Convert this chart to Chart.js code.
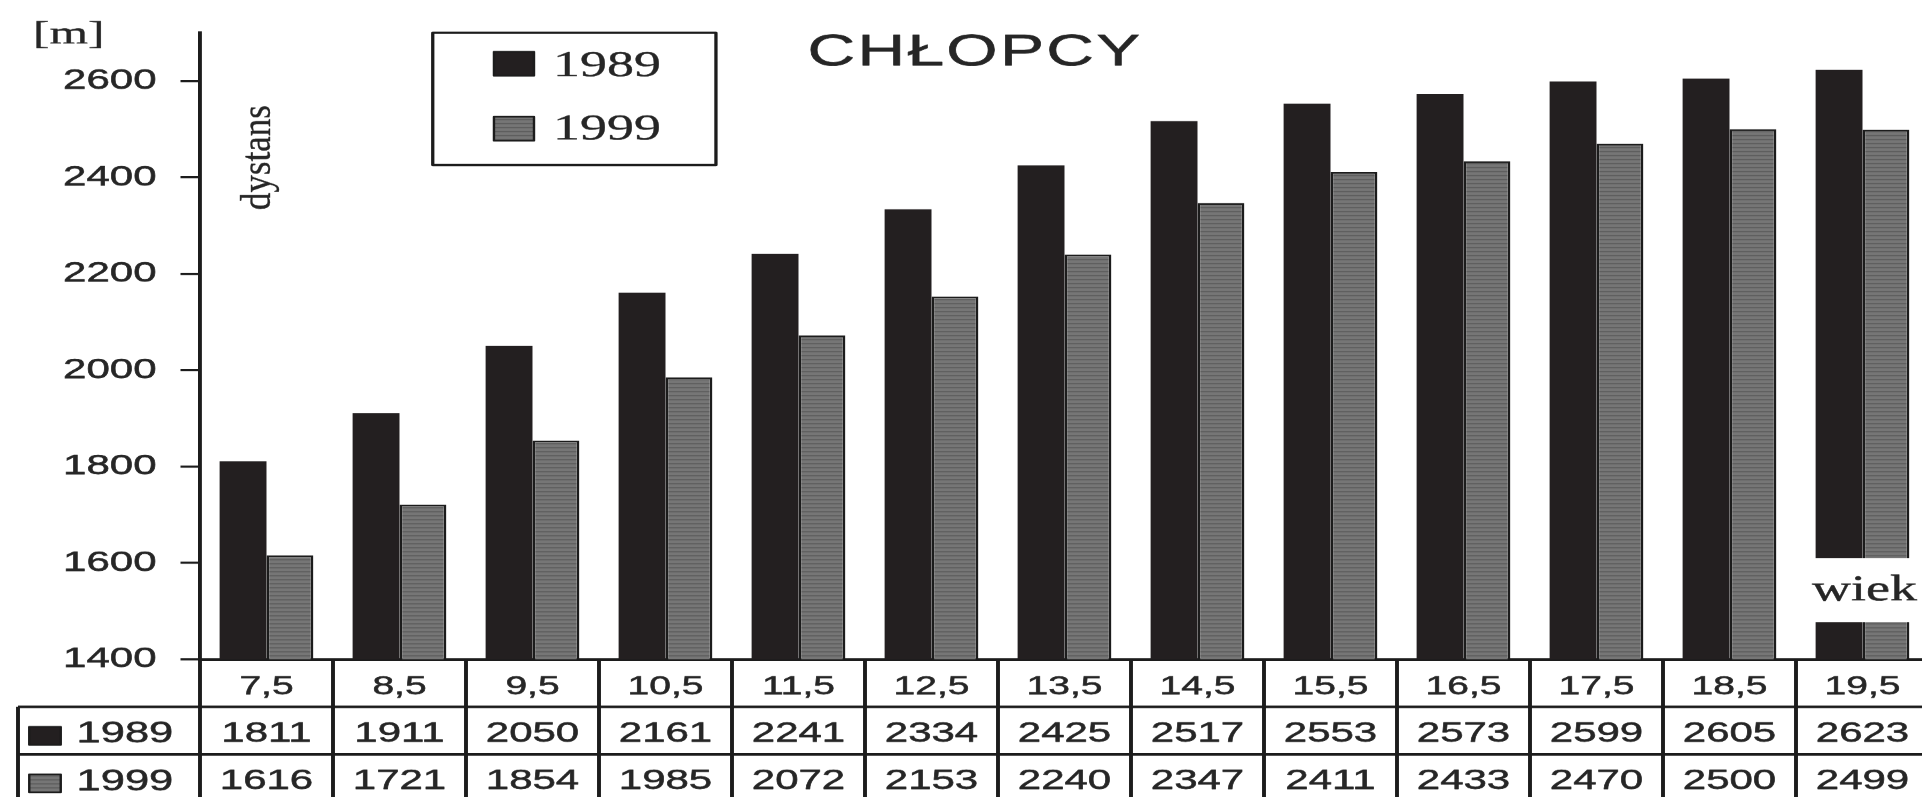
<!DOCTYPE html>
<html>
<head>
<meta charset="utf-8">
<script src="https://cdn.jsdelivr.net/npm/chart.js@4"></script>
<style>
  html, body { margin: 0; padding: 0; background: #fff; overflow: hidden; width: 1922px; height: 797px; }
  /* the figure is laid out narrow and widened 1.5x, as in the printed original */
  #wrap { position: absolute; left: 0; top: 0; width: 1300px; height: 797px; transform: scaleX(1.5); transform-origin: 0 0; }
  canvas { display: block; }
</style>
</head>
<body>
<div id="wrap"><canvas id="chart" width="1300" height="797"></canvas></div>
<script>
// age groups (years)
const categories = ['7,5', '8,5', '9,5', '10,5', '11,5', '12,5', '13,5', '14,5', '15,5', '16,5', '17,5', '18,5', '19,5'];
// 12-minute run distance [m], boys
const values1989 = [1811, 1911, 2050, 2161, 2241, 2334, 2425, 2517, 2553, 2573, 2599, 2605, 2623];
const values1999 = [1616, 1721, 1854, 1985, 2072, 2153, 2240, 2347, 2411, 2433, 2470, 2500, 2499];
const seriesNames = ['1989', '1999'];
const yTickValues = [1400, 1600, 1800, 2000, 2200, 2400, 2600];

const titleText = 'CHŁOPCY';
const unitText = '[m]';
const yAxisText = 'dystans';
const xAxisText = 'wiek';

const INK = '#1c1c1c';
const TEXT = '#262626';
const BLACK_FILL = '#231f20';
const SANS = '"Liberation Sans", Arial, sans-serif';
const SERIF = '"Liberation Serif", "Times New Roman", serif';

// grey fill with thin darker horizontal lines
function stripePattern() {
  const c = document.createElement('canvas');
  c.width = 6; c.height = 4;
  const g = c.getContext('2d');
  g.fillStyle = '#767676'; g.fillRect(0, 0, 6, 4);
  g.fillStyle = '#565656'; g.fillRect(0, 3, 6, 1);
  return g.createPattern(c, 'repeat');
}
const greyFill = stripePattern();

const ROW_H = 47.5;
const TABLE_LEFT = 12;

function text(ctx, s, x, y) {
  ctx.fillText(s, x, y);
  ctx.strokeText(s, x, y);
}

const sheetPlugin = {
  id: 'sheet',
  afterDraw(chart) {
    const ctx = chart.ctx;
    const area = chart.chartArea;
    const xs = chart.scales.x;
    const n = categories.length;
    const colW = (area.right - area.left) / n;
    const r0 = area.bottom;
    const r1 = r0 + ROW_H;
    const r2 = r1 + ROW_H;
    const r3 = r2 + ROW_H;
    const sets = chart.data.datasets;

    ctx.save();
    ctx.lineJoin = 'round';

    // label box over the last group of bars
    ctx.fillStyle = '#fff';
    ctx.fillRect(1196, 558, 110, 64);
    ctx.fillStyle = TEXT;
    ctx.strokeStyle = TEXT;
    ctx.lineWidth = 0.4;
    ctx.font = '36px ' + SERIF;
    ctx.textAlign = 'left';
    ctx.textBaseline = 'alphabetic';
    text(ctx, xAxisText, 1208, 600);

    // data table under the axis
    ctx.strokeStyle = INK;
    ctx.lineWidth = 2.6;
    ctx.beginPath();
    for (let i = 0; i <= n; i++) {
      const x = i < n ? xs.getPixelForValue(i) - colW / 2 : xs.getPixelForValue(n - 1) + colW / 2;
      ctx.moveTo(x, r0); ctx.lineTo(x, r3);
    }
    ctx.moveTo(TABLE_LEFT, r1); ctx.lineTo(TABLE_LEFT, r3);
    [r1, r2, r3].forEach(y => { ctx.moveTo(TABLE_LEFT, y); ctx.lineTo(area.right, y); });
    ctx.stroke();

    ctx.fillStyle = TEXT;
    ctx.strokeStyle = TEXT;
    ctx.lineWidth = 0.5;
    ctx.font = '28px ' + SANS;
    ctx.textAlign = 'center';
    ctx.textBaseline = 'alphabetic';
    const rows = [[values1989, r1], [values1999, r2]];
    rows.forEach(([vals, top]) => {
      const base = top + ROW_H / 2 + 11;
      vals.forEach((v, i) => text(ctx, String(v), xs.getPixelForValue(i), base));
    });

    // row headers with series swatches
    rows.forEach(([, top], k) => {
      const sy = top + 20;
      drawSwatch(ctx, sets[k], 19.5, sy, 21, 18);
      ctx.fillStyle = TEXT;
      ctx.strokeStyle = TEXT;
      ctx.lineWidth = 0.5;
      ctx.font = '29px ' + SANS;
      ctx.textAlign = 'left';
      text(ctx, sets[k].label, 51, top + ROW_H / 2 + 12);
    });

    // legend
    ctx.strokeStyle = INK;
    ctx.lineWidth = 2.2;
    ctx.strokeRect(288.5, 32.7, 188.8, 132.3);
    const legendRows = [[51.7, 76], [116.7, 139.5]];
    legendRows.forEach(([sy, base], k) => {
      drawSwatch(ctx, sets[k], 329.3, sy, 26.7, 24);
      ctx.fillStyle = TEXT;
      ctx.strokeStyle = TEXT;
      ctx.lineWidth = 0.3;
      ctx.font = '36px ' + SERIF;
      ctx.textAlign = 'left';
      text(ctx, sets[k].label, 368.7, base);
    });

    // title
    ctx.fillStyle = TEXT;
    ctx.strokeStyle = TEXT;
    ctx.lineWidth = 0.5;
    ctx.font = '44px ' + SANS;
    ctx.textAlign = 'center';
    if ('letterSpacing' in ctx) ctx.letterSpacing = '1.5px';
    text(ctx, titleText, 650, 65);
    if ('letterSpacing' in ctx) ctx.letterSpacing = '0px';

    // unit above the value axis
    ctx.lineWidth = 0.3;
    ctx.font = '33px ' + SERIF;
    ctx.textAlign = 'left';
    text(ctx, unitText, 22, 43);

    // vertical axis caption
    ctx.save();
    ctx.translate(172.7, 157.5);
    ctx.rotate(-Math.PI / 2);
    ctx.scale(1, 0.8);
    ctx.font = '35px ' + SERIF;
    ctx.textAlign = 'center';
    ctx.textBaseline = 'middle';
    ctx.lineWidth = 0.3;
    text(ctx, yAxisText, 0, 0);
    ctx.restore();

    ctx.restore();
  }
};

function drawSwatch(ctx, ds, x, y, w, h) {
  ctx.fillStyle = ds.backgroundColor;
  ctx.fillRect(x, y, w, h);
  ctx.strokeStyle = INK;
  ctx.lineWidth = 1.6;
  ctx.strokeRect(x, y, w, h);
}

new Chart(document.getElementById('chart'), {
  type: 'bar',
  data: {
    labels: categories,
    datasets: [
      { label: seriesNames[0], data: values1989, backgroundColor: BLACK_FILL, borderColor: BLACK_FILL, borderWidth: 0 },
      { label: seriesNames[1], data: values1999, backgroundColor: greyFill, borderColor: INK, borderWidth: 1.8 }
    ]
  },
  options: {
    responsive: false,
    animation: false,
    devicePixelRatio: 1.5,
    layout: { padding: { left: 0, top: 25, right: 14, bottom: 0 } },
    datasets: { bar: { categoryPercentage: 0.705, barPercentage: 1 } },
    plugins: { legend: { display: false }, tooltip: { enabled: false }, title: { display: false } },
    scales: {
      x: {
        grid: { display: false },
        border: { display: true, color: INK, width: 2.6 },
        ticks: {
          font: { family: SANS, size: 26 }, color: TEXT, padding: 4, maxRotation: 0, autoSkip: false,
          textStrokeColor: TEXT, textStrokeWidth: 0.5
        },
        afterFit: s => { s.height = 138; }
      },
      y: {
        min: 1400,
        max: 2700,
        afterBuildTicks: s => { s.ticks = yTickValues.map(v => ({ value: v })); },
        grid: { drawOnChartArea: false, tickLength: 13, color: INK, lineWidth: 2.2 },
        border: { display: true, color: INK, width: 2.6 },
        ticks: {
          font: { family: SANS, size: 28 }, color: TEXT, padding: 16,
          callback: v => String(v),
          textStrokeColor: TEXT, textStrokeWidth: 0.5
        },
        afterFit: s => { s.width = 133.33; }
      }
    }
  },
  plugins: [sheetPlugin]
});
</script>
</body>
</html>
